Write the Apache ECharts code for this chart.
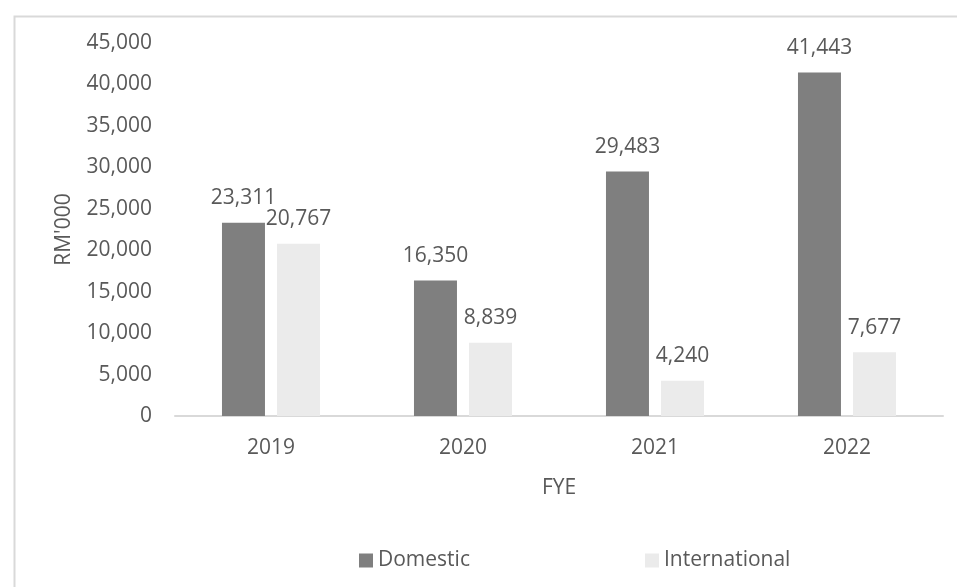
<!DOCTYPE html>
<html>
<head>
<meta charset="utf-8">
<script src="https://cdn.jsdelivr.net/npm/echarts@6/dist/echarts.min.js"></script>
<style>html,body{margin:0;padding:0;background:#fff;}#c{width:957px;height:587px;}</style>
</head>
<body>
<div id="c"></div>
<script>
const categories = ['2019', '2020', '2021', '2022'];
const domestic = [23311, 16350, 29483, 41443];
const international = [20767, 8839, 4240, 7677];
const yTicks = { min: 0, max: 45000, interval: 5000 };

const FONT = 'Open Sans';
const FS = 21;
const TXT = '#595959';
const chart = echarts.init(document.getElementById('c'), null, { renderer: 'canvas' });
const fmt = v => v.toLocaleString('en-US');
const labelStyle = {
  show: true, position: 'top', distance: 14, color: TXT,
  fontFamily: FONT, fontSize: FS, formatter: p => fmt(p.value)
};
const legendCommon = {
  top: 550, padding: 0, itemWidth: 14, itemHeight: 14, itemGap: 5, icon: 'rect',
  textStyle: { color: TXT, fontFamily: FONT, fontSize: FS, padding: [0, 0, 0, 0] },
  selectedMode: false
};
chart.setOption({
  animation: false,
  backgroundColor: '#fff',
  graphic: [{
    type: 'rect', left: 12, top: 14, silent: true,
    shape: { width: 980, height: 620 },
    style: { fill: 'none', stroke: '#d9d9d9', lineWidth: 2 }
  }],
  grid: { left: 175, right: 14, top: 43, bottom: 171, containLabel: false },
  legend: [
    Object.assign({ left: 359, data: ['Domestic'] }, legendCommon),
    Object.assign({ left: 645, data: ['International'] }, legendCommon)
  ],
  xAxis: {
    type: 'category', data: categories,
    name: 'FYE', nameLocation: 'middle', nameGap: 62,
    nameTextStyle: { color: TXT, fontFamily: FONT, fontSize: FS },
    axisLine: { lineStyle: { color: '#d9d9d9', width: 2 } },
    axisTick: { show: false },
    axisLabel: { color: TXT, fontFamily: FONT, fontSize: FS, margin: 22 }
  },
  yAxis: {
    type: 'value', min: yTicks.min, max: yTicks.max, interval: yTicks.interval,
    name: "RM'000", nameLocation: 'middle', nameGap: 100, nameRotate: 90,
    nameTextStyle: { color: TXT, fontFamily: FONT, fontSize: FS },
    axisLine: { show: false }, axisTick: { show: false }, splitLine: { show: false },
    axisLabel: { color: TXT, fontFamily: FONT, fontSize: FS, margin: 23, formatter: v => fmt(v) }
  },
  series: [
    { name: 'Domestic', type: 'bar', data: domestic, barWidth: 43, barGap: '28%',
      itemStyle: { color: '#7f7f7f' }, label: labelStyle },
    { name: 'International', type: 'bar', data: international, barWidth: 43, barGap: '28%',
      itemStyle: { color: '#ebebeb' }, label: labelStyle }
  ]
});
</script>
</body>
</html>
